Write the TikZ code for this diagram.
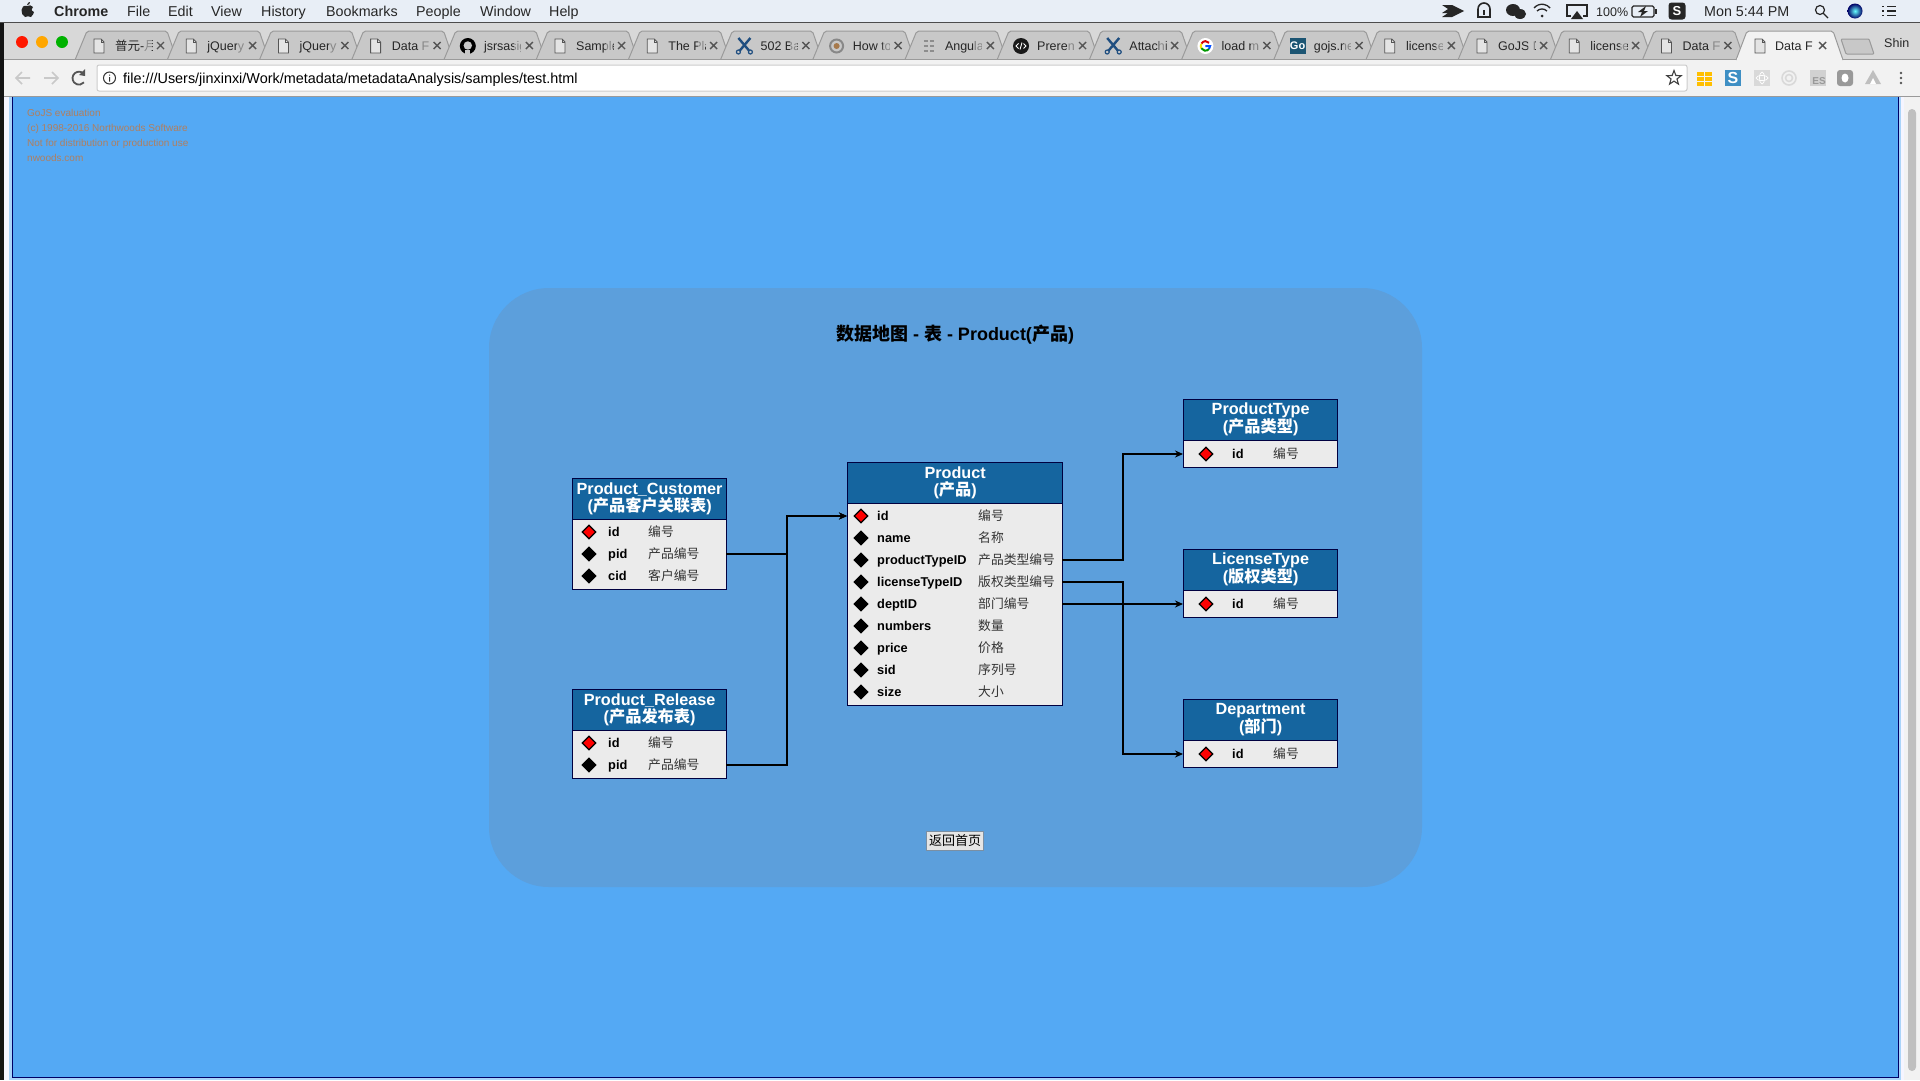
\documentclass[tikz,border=0pt]{standalone}
\usepackage{fontspec}
\setmainfont{Liberation Sans}
\newfontfamily\cjk{Noto Sans CJK SC}
\newcommand{\zh}[1]{{\cjk #1}}
\newcommand{\px}[1]{\fontsize{#1}{#1}\selectfont}
\usetikzlibrary{shapes.geometric,arrows.meta}

\definecolor{pagebg}{HTML}{54A9F4}
\definecolor{panelbg}{HTML}{5C9FDC}
\definecolor{headbg}{HTML}{15659F}
\definecolor{rowbg}{HTML}{EBEBEB}
\definecolor{menubg}{HTML}{E8EEF6}
\definecolor{tabgray}{HTML}{C8C8C8}
\definecolor{stripgray}{HTML}{D8D8D8}
\definecolor{barwhite}{HTML}{F2F2F2}
\definecolor{edgegray}{HTML}{9A9A9A}
\definecolor{inkgray}{HTML}{555555}
\definecolor{faintgray}{HTML}{C9C9C9}
\definecolor{scissor}{HTML}{1F4E80}
\definecolor{watermark}{HTML}{B07F5F}
\definecolor{buttonedge}{HTML}{7B8FA3}
\definecolor{goteal}{HTML}{1C5573}
\definecolor{syncblue}{HTML}{3E8FC4}

\tikzset{
    entity/.style={draw=black!75!blue, line width=1.2pt, fill=rowbg, inner sep=0pt},
    entityhead/.style={draw=black!75!blue, line width=1.2pt, fill=headbg, text=white, inner sep=0pt,
        minimum height=41pt, align=center, font=\bfseries\fontsize{16.2}{17}\selectfont},
    fieldrow/.style={anchor=west, inner sep=0pt, minimum height=22pt},
    keymark/.style={diamond, draw=black, line width=1.3pt, fill=red, inner sep=0pt, minimum size=14pt},
    plainmark/.style={diamond, draw=black, line width=1.3pt, fill=black, inner sep=0pt, minimum size=14pt},
    fieldname/.style={anchor=west, inner sep=0pt, text height=10pt, text depth=2pt, font=\bfseries\px{12.8}},
    fieldzh/.style={anchor=west, inner sep=0pt, text height=10pt, text depth=2pt, text=black!80, font=\px{12.8}},
    link/.style={line width=1.5pt, -{Stealth[length=8pt,width=7pt]}},
    menutext/.style={anchor=west, inner sep=0pt, text height=12pt, text depth=2pt, text=black!85, font=\px{14.3}},
    tabtext/.style={anchor=west, inner sep=0pt, text height=12pt, text depth=2pt, text=black!85, font=\px{12.5}},
    marktext/.style={anchor=west, inner sep=0pt, text height=9pt, text depth=1pt, text=watermark, font=\px{10}},
    pics/docicon/.style={code={
        \draw[inkgray, line width=.8pt, fill=white!50!tabgray] (-5,-7) -- (2,-7) -- (5,-4) -- (5,7) -- (-5,7) -- cycle;
        \draw[inkgray, line width=.8pt] (2,-7) -- (2,-4) -- (5,-4);
    }},
    pics/ghicon/.style={code={
        \fill[black] (0,0) circle (8);
        \fill[tabgray] (0,-.5) circle (4.2);
        \fill[tabgray] (-2.5,4) rectangle (2.5,8);
    }},
    pics/xicon/.style={code={
        \draw[scissor, line width=2.4pt] (-6,-8) -- (5,5) (6,-8) -- (-5,5);
        \draw[scissor, line width=1.2pt] (-6,6) circle (2) (6,6) circle (2);
    }},
    pics/howicon/.style={code={
        \draw[inkgray!70, line width=2pt] (0,0) circle (6.5);
        \fill[orange!50!black!70] (0,0) circle (3);
    }},
    pics/listicon/.style={code={
        \foreach \rowy in {-5,0,5}{\draw[faintgray!70!black, line width=1.6pt] (-5,\rowy) -- (-1,\rowy) (1,\rowy) -- (5,\rowy);}
    }},
    pics/preicon/.style={code={
        \fill[black!90] (0,0) circle (8);
        \draw[white, line width=.9pt] (-2.5,-2.5) -- (-5,0) -- (-2.5,2.5) (2.5,-2.5) -- (5,0) -- (2.5,2.5) (1,-3.5) -- (-1,3.5);
    }},
    pics/gicon/.style={code={
        \fill[white] (0,0) circle (8);
        \draw[red!85!black, line width=2pt] (-4,-2.5) arc[start angle=-150, end angle=-40, radius=4.7];
        \draw[yellow!85!orange, line width=2pt] (-4,2.5) arc[start angle=150, end angle=210, radius=4.7];
        \draw[green!60!black, line width=2pt] (3.6,3) arc[start angle=40, end angle=150, radius=4.7];
        \draw[blue!70!cyan, line width=2pt] (0,0) -- (4.7,0) arc[start angle=0, end angle=40, radius=4.7];
    }},
    pics/goicon/.style={code={
        \fill[goteal] (-8,-8) rectangle (8,8);
        \node[inner sep=0pt, text=white, font=\bfseries\px{11}] (goLabel) at (0,0) {Go};
    }},
}

% header box with its title, the rows follow from \tablerows
\newcommand{\entitybox}[7]{
    \node[entity, anchor=north west, minimum width=#4pt, minimum height=#5pt] (#1) at (#2,#3-0.5) {};
    \node[entityhead, anchor=north west, minimum width=#4pt] (#1Head) at (#2,#3-0.5) {#6\\(\zh{#7})};
}
\newcommand{\tablerows}[7]{
    \foreach \field/\zhname/\rowy/\dia in {#7}{
        \node[fieldrow, minimum width=#3pt] (#1\field) at (#2,\rowy) {};
        \node[\dia] (#1\field Mark) at (#2+#4,\rowy) {};
        \node[fieldname] (#1\field Name) at (#2+#5,\rowy) {\field};
        \node[fieldzh] (#1\field Zh) at (#2+#6,\rowy) {\zh{\zhname}};
    }
}

\begin{document}
\begin{tikzpicture}[x=1pt,y=-1pt]
    \useasboundingbox (0,0) rectangle (1920,1080);

    % desktop edge and window behind the page
    \fill[black!92] (0,0) rectangle (1920,1080);
    \fill[white!96!blue] (4,22) rectangle (1920,1080);

    % page
    \fill[pagebg!50!white] (9,97) rectangle (1901,1080);
    \fill[pagebg] (12.5,97) rectangle (1898,1077);
    \draw[black!60!blue, line width=1pt] (12.5,97) -- (12.5,1077) -- (1898,1077) -- (1898,97);
    \fill[barwhite] (1904,97) rectangle (1920,1080);
    \fill[black!25, rounded corners=4pt] (1908,109) rectangle (1916,1071);

    % menu bar
    \fill[menubg] (0,0) rectangle (1920,22);
    \draw[black!70, line width=.8pt] (0,22) -- (1920,22);
    \fill[black!85] (27,6) .. controls (20,4) and (20,15) .. (25,17) .. controls (27,16) and (29,16) .. (31,17) .. controls (33,15) and (34,13) .. (34,12) .. controls (31,11) and (31,8) .. (33,7) .. controls (32,5) and (29,5) .. (27,6) -- cycle;
    \fill[black!85] (27,5) .. controls (27,3) and (29,2) .. (30,2) .. controls (30,4) and (29,5) .. (27,5) -- cycle;
    \node[menutext, font=\bfseries\px{14.3}] (menuChrome) at (54,11) {Chrome};
    \foreach \menux/\menuname in {127/File,168/Edit,211/View,261/History,326/Bookmarks,416/People,480/Window,549/Help}
        \node[menutext] (menu\menuname) at (\menux,11) {\menuname};

    % status icons on the right of the menu bar
    \fill[black!85] (1442,5) -- (1452,5) -- (1464,11) -- (1452,17) -- (1442,17) -- (1448,13) -- (1442,13) -- (1448,9) -- cycle;
    \draw[black!85, line width=1.6pt] (1478,17) -- (1478,9) arc[start angle=180, end angle=360, radius=6] -- (1490,17) -- cycle;
    \fill[black!85] (1483,10) rectangle (1485,15);
    \fill[black!85] (1513,10) ellipse (7 and 6);
    \fill[black!85] (1520,14) ellipse (6 and 5);
    \draw[black!85, line width=1.3pt] (1534,8) arc[start angle=220, end angle=320, radius=10.5];
    \draw[black!85, line width=1.3pt] (1537,11) arc[start angle=225, end angle=315, radius=7];
    \fill[black!85] (1542,16) circle (1.5);
    \draw[black!85, line width=1.1pt] (1571,16) -- (1567,16) -- (1567,5) -- (1587,5) -- (1587,16) -- (1583,16);
    \fill[black!85] (1577,11) -- (1583,19) -- (1571,19) -- cycle;
    \node[menutext, font=\px{12.5}] (statusCharge) at (1596,11) {100\%};
    \draw[black!85, line width=1.2pt, rounded corners=1.5pt] (1632,6) rectangle (1654,17);
    \fill[black!85] (1655,9) rectangle (1657,14);
    \fill[black!85] (1646,6) -- (1638,12) -- (1642,12) -- (1640,17) -- (1648,11) -- (1644,11) -- cycle;
    \node[fill=black!85, rounded corners=3pt, inner sep=0pt, minimum size=17pt, text=white, font=\bfseries\px{13}] (statusSync) at (1677,11) {S};
    \node[menutext, font=\px{14.3}] (statusClock) at (1704,11) {Mon 5:44 PM};
    \draw[black!85, line width=1.2pt] (1820,10) circle (4.5) (1823.5,13.5) -- (1828,18);
    \shade[inner color=cyan!60!white, outer color=black!60!blue] (1855,11) circle (7.5);
    \draw[black!85, line width=1.4pt] (1882,6.5) -- (1884,6.5) (1887,6.5) -- (1896,6.5) (1882,11) -- (1884,11) (1887,11) -- (1896,11) (1882,15.5) -- (1884,15.5) (1887,15.5) -- (1896,15.5);

    % tab strip
    \fill[stripgray] (4,23) rectangle (1920,60);
    \fill[red!80!orange] (22,42) circle (6);
    \fill[orange!70!yellow] (42,42) circle (6);
    \fill[green!70!black] (62,42) circle (6);

    \foreach \tablabel/\tabicon [count=\i from 0] in {\zh{普元}-\zh{月}/docicon,jQuery/docicon,jQuery/docicon,Data Fl/docicon,jsrsasig/ghicon,Sample/docicon,The Pla/docicon,502 Ba/xicon,How to/howicon,Angula/listicon,Preren/preicon,Attachi/xicon,load m/gicon,gojs.ne/goicon,license/docicon,GoJS D/docicon,license/docicon,Data Fl/docicon}{
        \pgfmathsetmacro{\tabx}{75+92.2*\i}
        \draw[edgegray, line width=1pt, fill=tabgray, rounded corners=2pt] (\tabx,60) -- (\tabx+12,31) -- (\tabx+92,31) -- (\tabx+102,60);
        \pic at (\tabx+24,46) {\tabicon};
        \begin{scope}
            \clip (\tabx+36,33) rectangle (\tabx+77,59);
            \node[tabtext] (tab\i) at (\tabx+40,45.5) {\tablabel};
        \end{scope}
        \fill[tabgray, opacity=.6] (\tabx+70,34) rectangle (\tabx+77,58);
        \draw[inkgray, line width=1.4pt] (\tabx+82,42) -- (\tabx+89,49) (\tabx+89,42) -- (\tabx+82,49);
    }

    % toolbar
    \fill[barwhite] (4,60) rectangle (1920,97);
    \draw[edgegray, line width=.8pt] (4,96.5) -- (1920,96.5);
    \draw[edgegray, line width=.8pt] (4,59.5) -- (1920,59.5);

    % active tab on top of the toolbar line
    \draw[edgegray, line width=1pt, fill=barwhite, rounded corners=2pt] (1736,60) -- (1747,31) -- (1833,31) -- (1843,60);
    \fill[barwhite] (1737,58) rectangle (1842,61);
    \pic at (1760,46) {docicon};
    \begin{scope}
        \clip (1771,33) rectangle (1812,59);
        \node[tabtext] (tabActive) at (1775,45.5) {Data Fl};
    \end{scope}
    \draw[inkgray, line width=1.4pt] (1819,42) -- (1826,49) (1826,42) -- (1819,49);
    \draw[edgegray, line width=1pt, fill=tabgray, rounded corners=1pt] (1841,39) -- (1869,39) -- (1874,54) -- (1846,54) -- cycle;
    \node[tabtext] (profileName) at (1884,42) {Shin};

    % back, forward, reload
    \draw[faintgray, line width=1.6pt] (30,78) -- (16,78) (22,72) -- (16,78) -- (22,84);
    \draw[faintgray, line width=1.6pt] (44,78) -- (58,78) (52,72) -- (58,78) -- (52,84);
    \draw[inkgray, line width=1.8pt] (84,74) arc[start angle=-40, end angle=-320, radius=6.5];
    \fill[inkgray] (85,69) -- (85,76) -- (79,75) -- cycle;

    % address box
    \draw[black!20, line width=1pt, fill=white, rounded corners=2pt] (97,65) rectangle (1687,91);
    \draw[black!80, line width=1pt] (109.5,78) circle (6);
    \fill[black!80] (109,74.5) rectangle (110.2,75.7) (109,77) rectangle (110.2,81.5);
    \node[menutext, text=black, font=\px{14.4}] (addressText) at (123,78) {file:///Users/jinxinxi/Work/metadata/metadataAnalysis/samples/test.html};
    \node[star, star points=5, star point ratio=2.4, draw=black!75, line width=1.1pt, inner sep=0pt, minimum size=15pt] (bookmarkStar) at (1674,78) {};

    % extension icons
    \foreach \gridx in {1697,1705}{
        \foreach \gridy in {72,77,82}
            \fill[orange!50!yellow] (\gridx,\gridy) rectangle (\gridx+7,\gridy+3.5);
    }
    \node[fill=syncblue, inner sep=0pt, minimum size=16pt, text=white, font=\bfseries\px{16}] (extSync) at (1733,78) {S};
    \fill[black!15] (1754,70) rectangle (1770,86);
    \draw[white, line width=.7pt] (1762,78) ellipse (6 and 2.5) (1762,78) ellipse (2.5 and 6);
    \draw[black!15, line width=1.6pt] (1789,78) circle (7) (1789,78) circle (3.5);
    \fill[black!18] (1810,70) rectangle (1826,86);
    \node[inner sep=0pt, text=black!40, font=\bfseries\px{10}] (extSearch) at (1819,81) {ES};
    \fill[black!40, rounded corners=3pt] (1837,70) rectangle (1853,86);
    \fill[white] (1845,78) ellipse (3.5 and 4.5);
    \fill[black!25] (1873,70) -- (1881,84) -- (1865,84) -- cycle;
    \fill[white] (1873,78) -- (1876,84) -- (1870,84) -- cycle;
    \fill[inkgray] (1901,73) circle (1.4) (1901,78) circle (1.4) (1901,83) circle (1.4);

    % evaluation text of the page
    \node[marktext] (markOne) at (27,112) {GoJS evaluation};
    \node[marktext] (markTwo) at (27,127) {(c) 1998-2016 Northwoods Software};
    \node[marktext] (markThree) at (27,142) {Not for distribution or production use};
    \node[marktext] (markFour) at (27,157) {nwoods.com};

    % panel and title
    \fill[panelbg, rounded corners=60pt] (489,288) rectangle (1422,887);
    \node[inner sep=0pt, font=\bfseries\px{18}] (mapTitle) at (955,335) {\zh{数据地图} - \zh{表} - Product(\zh{产品})};

    % left tables
    \entitybox{cust}{572}{478}{154}{111}{Product\_Customer}{产品客户关联表}
    \tablerows{cust}{572}{154}{17}{36}{76}{id/编号/532/keymark,pid/产品编号/554/plainmark,cid/客户编号/576/plainmark}

    \entitybox{rel}{572}{689}{154}{89}{Product\_Release}{产品发布表}
    \tablerows{rel}{572}{154}{17}{36}{76}{id/编号/743/keymark,pid/产品编号/765/plainmark}

    % main table
    \entitybox{prod}{847}{462}{215}{243}{Product}{产品}
    \tablerows{prod}{847}{215}{14}{30}{131}{id/编号/516/keymark,name/名称/538/plainmark,productTypeID/产品类型编号/560/plainmark,licenseTypeID/版权类型编号/582/plainmark,deptID/部门编号/604/plainmark,numbers/数量/626/plainmark,price/价格/648/plainmark,sid/序列号/670/plainmark,size/大小/692/plainmark}

    % right tables
    \entitybox{ptype}{1183}{399}{154}{68}{ProductType}{产品类型}
    \tablerows{ptype}{1183}{154}{23}{49}{90}{id/编号/454/keymark}

    \entitybox{ltype}{1183}{549}{154}{68}{LicenseType}{版权类型}
    \tablerows{ltype}{1183}{154}{23}{49}{90}{id/编号/604/keymark}

    \entitybox{dept}{1183}{699}{154}{68}{Department}{部门}
    \tablerows{dept}{1183}{154}{23}{49}{90}{id/编号/754/keymark}

    % connectors
    \coordinate (leftBus) at (787,516);
    \coordinate (typeBus) at (1123,454);
    \coordinate (deptBus) at (1123,754);
    \draw[link] (custpid.east) -| (leftBus) -- (prodid.west);
    \draw[link] (relpid.east) -| (leftBus) -- (prodid.west);
    \draw[link] (prodproductTypeID.east) -| (typeBus) -- (ptypeid.west);
    \draw[link] (prodlicenseTypeID.east) -| (deptBus) -- (deptid.west);
    \draw[link] (proddeptID.east) -- (ltypeid.west);

    % button
    \node[draw=buttonedge, line width=1.4pt, fill=black!10, inner sep=0pt, minimum width=57pt, minimum height=19pt, font=\px{13}] (homeButton) at (955,841) {\zh{返回首页}};
\end{tikzpicture}
\end{document}
